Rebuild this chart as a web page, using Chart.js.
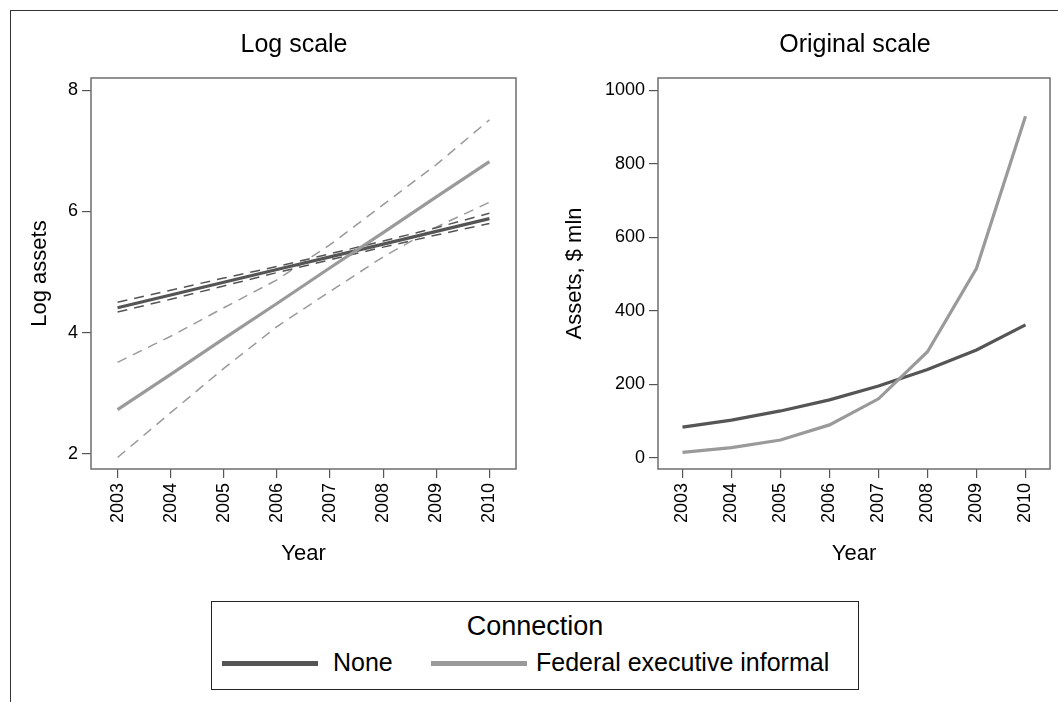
<!DOCTYPE html>
<html>
<head>
<meta charset="utf-8">
<script src="https://cdn.jsdelivr.net/npm/chart.js@4.4.0/dist/chart.umd.min.js"></script>
<style>
  html, body { margin: 0; padding: 0; background: #fff; overflow: hidden; }
  body { width: 1058px; height: 702px; position: relative; font-family: "Liberation Sans", Arial, sans-serif; }
  #frame { position: absolute; left: 10px; top: 10px; width: 1100px; height: 750px;
           border-left: 1.5px solid #333; border-top: 1.5px solid #333; }
  #leftWrap  { position: absolute; left: 12px;  top: 12px; width: 540px; height: 560px; }
  #rightWrap { position: absolute; left: 540px; top: 12px; width: 518px; height: 560px; }
  #legend { position: absolute; left: 211px; top: 601px; width: 648px; height: 89px;
            border: 1.5px solid #222; box-sizing: border-box; background: #fff; }
  #legend .ttl { position: absolute; left: 0; right: 0; top: 9px; text-align: center; font-size: 27px; color: #000; }
  #legend .sw { position: absolute; height: 5px; top: 59px; }
  #legend .lab { position: absolute; top: 46px; font-size: 25px; color: #000; white-space: nowrap; }
</style>
</head>
<body>
<div id="frame"></div>
<div id="leftWrap"><canvas id="logChart" width="540" height="560"></canvas></div>
<div id="rightWrap"><canvas id="origChart" width="518" height="560"></canvas></div>
<div id="legend"></div>

<script>
/*******************************************************
 * DATA
 *******************************************************/
const YEARS = ["2003", "2004", "2005", "2006", "2007", "2008", "2009", "2010"];
const SERIES_NAMES = ["None", "Federal executive informal"];
const LEGEND_TITLE = "Connection";

// left panel: log assets, fitted line and dashed confidence bands
const LOG_NONE       = [4.41, 4.62, 4.83, 5.04, 5.25, 5.46, 5.67, 5.88];
const LOG_NONE_UPPER = [4.50, 4.70, 4.90, 5.09, 5.30, 5.51, 5.73, 5.97];
const LOG_NONE_LOWER = [4.34, 4.55, 4.77, 4.99, 5.20, 5.41, 5.61, 5.80];
const LOG_FED        = [2.73, 3.31, 3.90, 4.48, 5.07, 5.65, 6.24, 6.82];
const LOG_FED_UPPER  = [3.51, 3.94, 4.41, 4.87, 5.45, 6.11, 6.77, 7.51];
const LOG_FED_LOWER  = [1.94, 2.68, 3.41, 4.10, 4.68, 5.25, 5.74, 6.15];

// right panel: assets, $ mln
const ASSETS_NONE = [83, 102, 127, 157, 195, 240, 293, 361];
const ASSETS_FED  = [14, 27, 48, 89, 160, 288, 515, 929];

const LOG_TICKS = [2, 4, 6, 8];
const ASSET_TICKS = [0, 200, 400, 600, 800, 1000];

const DARK = "#555555";
const LIGHT = "#9a9a9a";

/*******************************************************
 * SMALL PLUGINS
 *******************************************************/
// box around the plot region
const plotBox = {
  id: "plotBox",
  afterDraw(chart) {
    const a = chart.chartArea, ctx = chart.ctx;
    ctx.save();
    ctx.strokeStyle = "#6e6e6e";
    ctx.lineWidth = 1.5;
    ctx.strokeRect(a.left, a.top, a.right - a.left, a.bottom - a.top);
    ctx.restore();
  }
};

// panel title, centred over the whole panel (not only the plot area)
const panelTitle = {
  id: "panelTitle",
  afterDraw(chart, args, opts) {
    const ctx = chart.ctx;
    ctx.save();
    ctx.font = '25px "Liberation Sans", Arial, sans-serif';
    ctx.fillStyle = "#000";
    ctx.textAlign = "center";
    ctx.textBaseline = "middle";
    ctx.fillText(opts.text, opts.x, opts.y);
    ctx.restore();
  }
};

Chart.defaults.font.family = '"Liberation Sans", Arial, sans-serif';
Chart.defaults.color = "#000";
Chart.defaults.animation = false;

function solid(label, data, color) {
  return { label, data, borderColor: color, borderWidth: 3.2, pointRadius: 0, tension: 0, fill: false };
}
function dashed(label, data, color) {
  return { label, data, borderColor: color, borderWidth: 1.5, borderDash: [10, 7], pointRadius: 0, tension: 0, fill: false };
}

function xAxis() {
  return {
    type: "category",
    offset: true,
    grid: { drawOnChartArea: false, drawTicks: true, tickLength: 9, color: "#555", lineWidth: 1.2 },
    border: { display: false },
    ticks: { font: { size: 18 }, minRotation: 90, maxRotation: 90, autoSkip: false, padding: 5, color: "#000" },
    title: { display: true, text: "Year", font: { size: 22 }, padding: { top: 0, bottom: 5 }, color: "#000" },
    afterFit(scale) { scale.height = 103; }
  };
}

function yAxis(min, max, ticks, title, width, titlePad) {
  return {
    type: "linear",
    min: min,
    max: max,
    grid: { drawOnChartArea: false, drawTicks: true, tickLength: 9, color: "#555", lineWidth: 1.2 },
    border: { display: false },
    ticks: { font: { size: 18 }, padding: 4, color: "#000", callback: v => String(v) },
    afterBuildTicks(scale) { scale.ticks = ticks.map(v => ({ value: v })); },
    title: { display: true, text: title, font: { size: 22 }, padding: { top: titlePad, bottom: 0 }, color: "#000" },
    afterFit(scale) { scale.width = width; }
  };
}

/*******************************************************
 * LEFT PANEL - LOG SCALE
 *******************************************************/
new Chart(document.getElementById("logChart").getContext("2d"), {
  type: "line",
  data: {
    labels: YEARS,
    datasets: [
      solid(SERIES_NAMES[1], LOG_FED, LIGHT),
      solid(SERIES_NAMES[0], LOG_NONE, DARK),
      dashed("None upper", LOG_NONE_UPPER, DARK),
      dashed("None lower", LOG_NONE_LOWER, DARK),
      dashed("Federal upper", LOG_FED_UPPER, LIGHT),
      dashed("Federal lower", LOG_FED_LOWER, LIGHT)
    ]
  },
  options: {
    responsive: false,
    layout: { padding: { top: 66, right: 36, left: 0, bottom: 0 } },
    scales: {
      x: xAxis(),
      y: yAxis(1.75, 8.2, LOG_TICKS, "Log assets", 79, 15)
    },
    plugins: {
      legend: { display: false },
      tooltip: { enabled: false },
      panelTitle: { text: "Log scale", x: 282, y: 33 }
    }
  },
  plugins: [plotBox, panelTitle]
});

/*******************************************************
 * RIGHT PANEL - ORIGINAL SCALE
 *******************************************************/
new Chart(document.getElementById("origChart").getContext("2d"), {
  type: "line",
  data: {
    labels: YEARS,
    datasets: [
      solid(SERIES_NAMES[1], ASSETS_FED, LIGHT),
      solid(SERIES_NAMES[0], ASSETS_NONE, DARK)
    ]
  },
  options: {
    responsive: false,
    layout: { padding: { top: 66, right: 8, left: 0, bottom: 0 } },
    scales: {
      x: xAxis(),
      y: yAxis(-31, 1033, ASSET_TICKS, "Assets, $ mln", 118, 22)
    },
    plugins: {
      legend: { display: false },
      tooltip: { enabled: false },
      panelTitle: { text: "Original scale", x: 315, y: 33 }
    }
  },
  plugins: [plotBox, panelTitle]
});

/*******************************************************
 * SHARED LEGEND
 *******************************************************/
function buildLegend() {
  const box = document.getElementById("legend");
  const t = document.createElement("div");
  t.className = "ttl";
  t.textContent = LEGEND_TITLE;
  box.appendChild(t);
  const colors = [DARK, LIGHT];
  const swLeft = [10, 219];
  const labLeft = [121, 324];
  SERIES_NAMES.forEach((name, i) => {
    const sw = document.createElement("div");
    sw.className = "sw";
    sw.style.left = swLeft[i] + "px";
    sw.style.width = "96px";
    sw.style.background = colors[i];
    box.appendChild(sw);
    const lab = document.createElement("div");
    lab.className = "lab";
    lab.style.left = labLeft[i] + "px";
    lab.textContent = name;
    box.appendChild(lab);
  });
}
buildLegend();
</script>
</body>
</html>
